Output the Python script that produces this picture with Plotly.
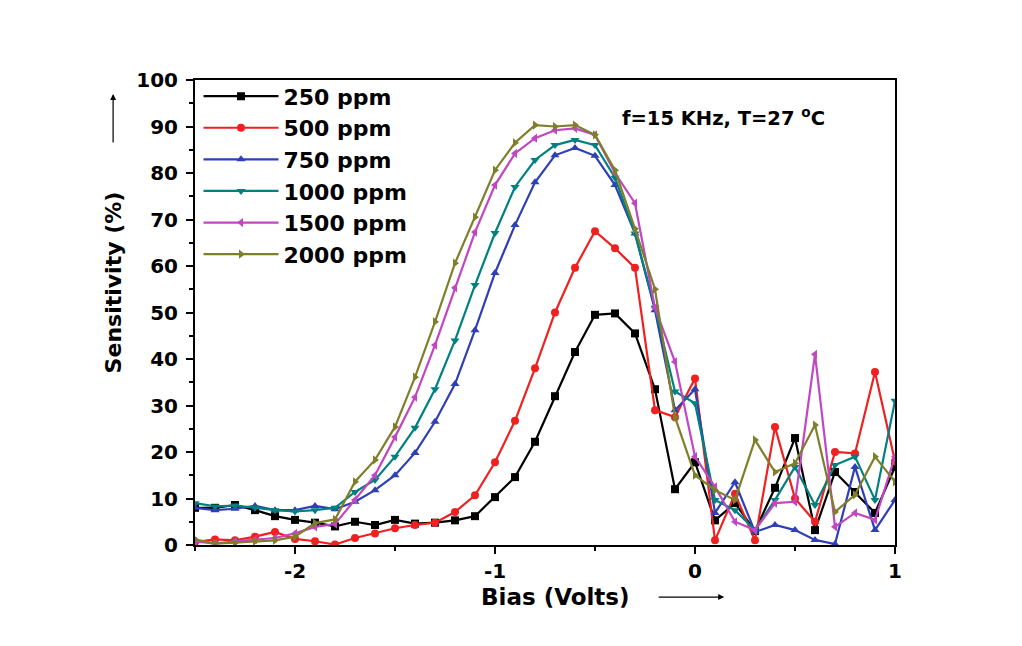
import plotly.graph_objects as go

bias = [-2.5, -2.4, -2.3, -2.2, -2.1, -2.0, -1.9, -1.8, -1.7, -1.6, -1.5, -1.4,
        -1.3, -1.2, -1.1, -1.0, -0.9, -0.8, -0.7, -0.6, -0.5, -0.4, -0.3, -0.2,
        -0.1, 0.0, 0.1, 0.2, 0.3, 0.4, 0.5, 0.6, 0.7, 0.8, 0.9, 1.0]

s250 = [8.0, 8.0, 8.6, 7.5, 6.2, 5.4, 4.8, 4.0, 5.0, 4.3, 5.4, 4.6,
        4.8, 5.3, 6.2, 10.3, 14.6, 22.2, 32.0, 41.5, 49.5, 49.8, 45.5, 33.5,
        12.0, 17.8, 5.3, 9.0, 3.0, 12.3, 23.0, 3.2, 15.7, 11.4, 6.9, 16.8]

s500 = [0.6, 1.2, 1.0, 1.8, 2.8, 1.3, 0.8, 0.1, 1.5, 2.5, 3.6, 4.3,
        4.8, 7.1, 10.7, 17.8, 26.7, 38.0, 50.0, 59.6, 67.5, 63.8, 59.6, 29.0,
        27.5, 35.8, 1.0, 11.0, 1.0, 25.4, 10.0, 5.0, 20.0, 19.7, 37.2, 18.0]

s750 = [8.0, 7.5, 7.8, 8.4, 7.5, 7.5, 8.4, 7.7, 9.3, 11.8, 15.0, 19.8,
        26.5, 34.6, 46.2, 58.5, 68.8, 78.0, 83.8, 85.4, 83.7, 77.4, 67.0, 50.5,
        29.0, 33.5, 6.9, 13.5, 2.8, 4.3, 3.2, 1.1, 0.2, 16.8, 3.2, 9.7]

s1000 = [9.0, 8.3, 8.5, 8.0, 7.5, 7.2, 7.5, 8.0, 11.4, 14.0, 19.0, 25.2,
         33.5, 44.0, 55.9, 67.1, 77.0, 82.8, 86.0, 87.1, 86.0, 79.0, 67.0, 51.0,
         33.0, 30.5, 9.7, 7.5, 3.2, 9.7, 16.8, 8.6, 17.2, 19.0, 9.7, 31.0]

s1500 = [0.8, 0.3, 0.8, 1.2, 1.5, 2.5, 3.9, 4.5, 9.7, 15.0, 23.2, 31.8,
         43.0, 55.3, 67.3, 77.4, 84.2, 87.5, 89.2, 89.6, 88.2, 80.0, 73.5, 51.0,
         39.4, 19.0, 12.5, 5.0, 3.2, 9.0, 9.3, 41.0, 3.9, 6.9, 5.4, 19.0]

s2000 = [1.2, 0.3, 0.5, 0.8, 1.0, 1.8, 4.7, 5.5, 13.6, 18.3, 25.4, 36.1,
         48.0, 60.6, 70.5, 80.6, 86.5, 90.3, 90.0, 90.3, 88.2, 80.6, 68.0, 55.0,
         27.5, 15.0, 11.8, 9.7, 22.6, 15.7, 17.6, 25.8, 7.1, 10.8, 19.0, 13.6]

x_tickvals = [-2, -1, 0, 1]
x_ticktext = ["-2", "-1", "0", "1"]

names = ["250 ppm", "500 ppm", "750 ppm", "1000 ppm", "1500 ppm", "2000 ppm"]
series = [s250, s500, s750, s1000, s1500, s2000]
colors = ["#000000", "#f02020", "#2f3fb4", "#008080", "#c246c2", "#7f7f2a"]
symbols = ["square", "circle", "triangle-up", "triangle-down", "triangle-left", "triangle-right"]

FONT = "DejaVu Sans"

fig = go.Figure()
for i, (nm, ys, c, sym) in enumerate(zip(names, series, colors, symbols)):
    fig.add_trace(go.Scatter(
        x=bias, y=ys, name=nm, mode="lines+markers",
        line=dict(color=c, width=2.2),
        marker=dict(symbol=sym, size=8, color=c),
        legendgroup=f"g{i}",
    ))

axis_common = dict(
    showline=True, linecolor="black", linewidth=2, mirror=True,
    ticks="outside", ticklen=7, tickwidth=2, tickcolor="black",
    showgrid=False, zeroline=False,
    tickfont=dict(family=FONT, size=20, color="black", weight="bold"),
)

fig.update_xaxes(range=[-2.5, 1], tickmode="array", tickvals=x_tickvals,
                 ticktext=x_ticktext,
                 minor=dict(dtick=0.5, tick0=-2.5, ticks="outside", ticklen=4,
                            tickwidth=2, tickcolor="black"),
                 **axis_common)
fig.update_yaxes(range=[0, 100], tick0=0, dtick=10, ticklabelstandoff=4,
                 minor=dict(dtick=5, ticks="outside", ticklen=4,
                            tickwidth=2, tickcolor="black"),
                 **axis_common)

fig.add_annotation(text="Bias (Volts)", xref="paper", yref="paper",
                   x=0.515, y=-0.112, xanchor="center", yanchor="middle",
                   showarrow=False,
                   font=dict(family=FONT, size=23, color="black", weight="bold"))
fig.add_annotation(xref="paper", yref="paper",
                   x=0.756, y=-0.112, ax=-67, ay=0, text="",
                   showarrow=True, arrowhead=2, arrowsize=1, arrowwidth=1.2,
                   arrowcolor="black")
fig.add_annotation(text="Sensitivity (%)", xref="paper", yref="paper",
                   x=-0.117, y=0.565, xanchor="center", yanchor="middle",
                   showarrow=False, textangle=-90,
                   font=dict(family=FONT, size=22, color="black", weight="bold"))
fig.add_annotation(xref="paper", yref="paper",
                   x=-0.117, y=0.97, ax=0, ay=50, text="",
                   showarrow=True, arrowhead=2, arrowsize=1, arrowwidth=1.2,
                   arrowcolor="black")
fig.add_annotation(text="f=15 KHz, T=27 <sup>o</sup>C", xref="paper", yref="paper",
                   x=0.607, y=0.92, xanchor="left", yanchor="middle",
                   showarrow=False,
                   font=dict(family=FONT, size=19.5, color="black", weight="bold"))

fig.update_layout(
    width=1022, height=646,
    margin=dict(l=195, r=127, t=80, b=101),
    paper_bgcolor="white", plot_bgcolor="white",
    showlegend=True,
    legend=dict(x=0.005, y=1.01, xanchor="left", yanchor="top",
                bgcolor="rgba(0,0,0,0)", traceorder="grouped",
                tracegroupgap=0, itemwidth=75,
                font=dict(family=FONT, size=22, color="black", weight="bold")),
)

fig.write_html("out.html")
